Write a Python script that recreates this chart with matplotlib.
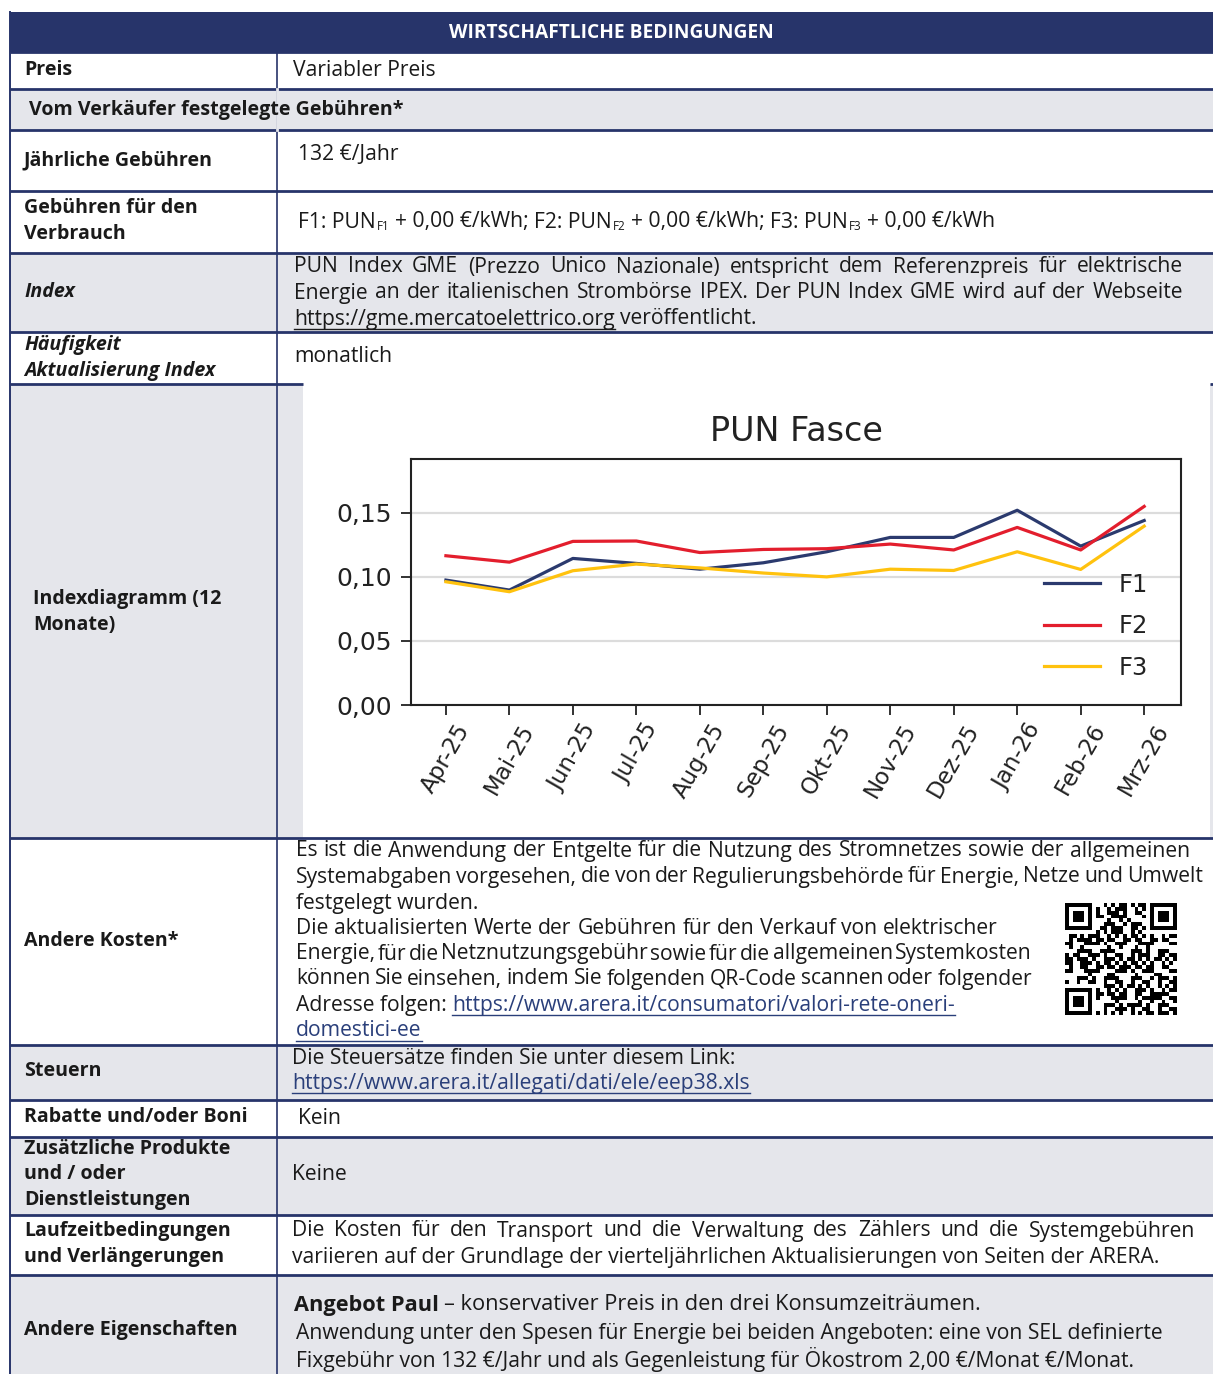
import matplotlib
matplotlib.use("Agg")
import matplotlib.pyplot as plt
from matplotlib.patches import Rectangle
import numpy as np

# ---------------- data ----------------
months = ["Apr-25", "Mai-25", "Jun-25", "Jul-25", "Aug-25", "Sep-25",
          "Okt-25", "Nov-25", "Dez-25", "Jan-26", "Feb-26", "Mrz-26"]
pun_f1 = [0.0975, 0.0897, 0.1144, 0.1105, 0.1060, 0.1110,
          0.1196, 0.1308, 0.1308, 0.1520, 0.1240, 0.1440]
pun_f2 = [0.1165, 0.1115, 0.1277, 0.1280, 0.1190, 0.1214,
          0.1220, 0.1256, 0.1210, 0.1386, 0.1210, 0.1550]
pun_f3 = [0.0962, 0.0884, 0.1048, 0.1100, 0.1070, 0.1030,
          0.1000, 0.1060, 0.1050, 0.1196, 0.1058, 0.1396]
series_names = ["F1", "F2", "F3"]
y_ticks = [0.00, 0.05, 0.10, 0.15]
y_tick_labels = ["0,00", "0,05", "0,10", "0,15"]
chart_title = "PUN Fasce"

header_title = "WIRTSCHAFTLICHE BEDINGUNGEN"

# ---------------- style ----------------
W, H, DPI = 1213, 1374, 100
NAVY = "#27346a"
GRAY = "#e5e6eb"
LINK = "#2a3f7a"
TXT = "#1a1a1a"
series_colors = ["#2b3a6e", "#e31e2d", "#ffc20e"]
FONT = ["Open Sans", "DejaVu Sans"]
BODY_FS = 15.2
LABEL_FS = 14.1

plt.rcParams["font.family"] = FONT

fig = plt.figure(figsize=(W / DPI, H / DPI), dpi=DPI)
fig.patch.set_facecolor("white")
bg = fig.add_axes([0, 0, 1, 1])
bg.set_xlim(0, W)
bg.set_ylim(H, 0)
bg.axis("off")
renderer = fig.canvas.get_renderer()

X0, XC, X1 = 10, 277, W

# row bands: (top, bottom, background)
rows = [
    (52, 89, "white"), (89, 130, GRAY), (130, 191, "white"), (191, 253, "white"),
    (253, 332, GRAY), (332, 384, "white"), (384, 838, GRAY), (838, 1045, "white"),
    (1045, 1100, GRAY), (1100, 1137, "white"), (1137, 1215, GRAY),
    (1215, 1275, "white"), (1275, 1374, GRAY),
]
for top, bot, col in rows:
    bg.add_patch(Rectangle((X0, top), X1 - X0, bot - top, facecolor=col,
                           edgecolor="none", zorder=0))
# header
bg.add_patch(Rectangle((X0, 12), X1 - X0, 40, facecolor=NAVY, edgecolor="none", zorder=1))
bg.text((X0 + X1) / 2, 32.5, header_title, color="white", fontsize=13.8,
        fontweight="bold", ha="center", va="center", zorder=3)

# white chart image area
bg.add_patch(Rectangle((303, 384), 1210 - 303, 838 - 384, facecolor="white",
                       edgecolor="none", zorder=1))

# borders
hlines = [52, 89, 130, 191, 253, 332, 838, 1045, 1100, 1137, 1215, 1275]
for y in hlines:
    bg.plot([X0, X1], [y, y], color=NAVY, lw=2.0, zorder=2, solid_capstyle="butt")
bg.plot([X0, 303], [384, 384], color=NAVY, lw=2.0, zorder=2, solid_capstyle="butt")
bg.plot([1210, X1], [384, 384], color=NAVY, lw=2.0, zorder=2, solid_capstyle="butt")
bg.plot([X0, X0], [12, H], color=NAVY, lw=1.4, zorder=2)
bg.plot([XC, XC], [52, H], color=NAVY, lw=1.2, zorder=2)
bg.plot([XC, XC], [89, 130], color=GRAY, lw=2.0, zorder=2)


def width_of(s, **kw):
    t = bg.text(0, 0, s, **kw)
    w = t.get_window_extent(renderer).width
    t.remove()
    return w


def text(x, y, s, fs=BODY_FS, weight="normal", style="normal", color=TXT,
         underline=False, **kw):
    t = bg.text(x, y, s, fontsize=fs, fontweight=weight, fontstyle=style,
                color=color, ha="left", va="center", zorder=4, **kw)
    w = t.get_window_extent(renderer).width
    if underline:
        bg.plot([x, x + w], [y + fs * 0.64, y + fs * 0.64], color=color,
                lw=1.0, zorder=4)
    return x + w


def space_w(fs=BODY_FS, weight="normal"):
    return (width_of("x x", fontsize=fs, fontweight=weight)
            - width_of("xx", fontsize=fs, fontweight=weight))


def justify(x0, x1, y, line, fs=BODY_FS):
    words = line.split(" ")
    ws = [width_of(w, fontsize=fs) for w in words]
    gap = (x1 - x0 - sum(ws)) / (len(words) - 1)
    x = x0
    for w, wd in zip(words, ws):
        text(x, y, w, fs=fs)
        x += wd + gap


def label(x, y, s, style="normal"):
    text(x, y, s, fs=LABEL_FS, weight="bold", style=style)


# ---- left column labels ----
label(24, 70, "Preis")
label(29, 110, "Vom Verkäufer festgelegte Gebühren*")
label(24, 160, "Jährliche Gebühren")
label(24, 208, "Gebühren für den")
label(24, 234, "Verbrauch")
label(24, 292, "Index", style="italic")
label(24, 345, "Häufigkeit", style="italic")
label(24, 371, "Aktualisierung Index", style="italic")
label(33, 599, "Indexdiagramm (12")
label(33, 625, "Monate)")
label(24, 941, "Andere Kosten*")
label(24, 1071, "Steuern")
label(24, 1117, "Rabatte und/oder Boni")
label(24, 1149, "Zusätzliche Produkte")
label(24, 1174, "und / oder")
label(24, 1200, "Dienstleistungen")
label(24, 1231, "Laufzeitbedingungen")
label(24, 1257, "und Verlängerungen")
label(24, 1330, "Andere Eigenschaften")

# ---- right column ----
text(293, 70, "Variabler Preis")
text(298, 154, "132 €/Jahr")

x = 298
sp = space_w()
for i, fname in enumerate(series_names):
    x = text(x, 222, f"{fname}: PUN")
    x = text(x + 1, 226, fname, fs=BODY_FS * 0.55)
    tail = " + 0,00 €/kWh" + (";" if i < 2 else "")
    x = text(x + sp, 222, tail.strip())
    x += sp

justify(294, 1183, 267,
        "PUN Index GME (Prezzo Unico Nazionale) entspricht dem Referenzpreis für elektrische")
justify(294, 1183, 293,
        "Energie an der italienischen Strombörse IPEX. Der PUN Index GME wird auf der Webseite")
x = text(294, 319, "https://gme.mercatoelettrico.org", underline=True)
text(x + sp, 319, "veröffentlicht.")

text(294, 357, "monatlich")

ak_lines = [
    "Es ist die Anwendung der Entgelte für die Nutzung des Stromnetzes sowie der allgemeinen",
    "Systemabgaben vorgesehen, die von der Regulierungsbehörde für Energie, Netze und Umwelt",
    "festgelegt wurden.",
    "Die aktualisierten Werte der Gebühren für den Verkauf von elektrischer",
    "Energie, für die Netznutzungsgebühr sowie für die allgemeinen Systemkosten",
    "können Sie einsehen, indem Sie folgenden QR-Code scannen oder folgender",
]
ak_y = [851, 877, 903, 929, 954, 979]
ak_end = [1190, 1203, None, 998, 1032, 1032]
for s, y, e in zip(ak_lines, ak_y, ak_end):
    if e is None:
        text(296, y, s)
    else:
        justify(296, e, y, s)
x = text(296, 1005, "Adresse folgen:")
text(x + sp, 1005, "https://www.arera.it/consumatori/valori-rete-oneri-",
     color=LINK, underline=True)
text(296, 1031, "domestici-ee", color=LINK, underline=True)

# QR code (decorative)
n = 29
qr = np.zeros((n, n), dtype=int)
r, c = np.indices((n, n))
qr[((r * 5 + c * 3 + r * c) % 7 < 3) | ((r ^ c) % 5 == 0)] = 1
for (rr, cc) in [(0, 0), (0, n - 7), (n - 7, 0)]:
    qr[max(rr - 1, 0):rr + 8, max(cc - 1, 0):cc + 8] = 0
    qr[rr:rr + 7, cc:cc + 7] = 1
    qr[rr + 1:rr + 6, cc + 1:cc + 6] = 0
    qr[rr + 2:rr + 5, cc + 2:cc + 5] = 1
qax = fig.add_axes([1064 / W, 1 - 1015 / H, 113 / W, 112 / H])
qax.imshow(qr, cmap="gray_r", interpolation="nearest")
qax.axis("off")

text(292, 1058, "Die Steuersätze finden Sie unter diesem Link:")
text(292, 1083, "https://www.arera.it/allegati/dati/ele/eep38.xls",
     color=LINK, underline=True)
text(298, 1118, "Kein")
text(292, 1175, "Keine")
justify(292, 1195, 1231,
        "Die Kosten für den Transport und die Verwaltung des Zählers und die Systemgebühren")
text(292, 1257, "variieren auf der Grundlage der vierteljährlichen Aktualisierungen von Seiten der ARERA.")

x = text(294, 1305, "Angebot Paul", fs=15.7, weight="bold")
text(x + sp, 1305, "– konservativer Preis in den drei Konsumzeiträumen.", fs=15.7)
text(296, 1334, "Anwendung unter den Spesen für Energie bei beiden Angeboten: eine von SEL definierte")
text(296, 1360, "Fixgebühr von 132 €/Jahr und als Gegenleistung für Ökostrom 2,00 €/Monat €/Monat.")

# ---------------- chart ----------------
ax = fig.add_axes([411 / W, 1 - 705 / H, (1181 - 411) / W, (705 - 459) / H])
xs = np.arange(len(months))
for vals, name, colr in zip([pun_f1, pun_f2, pun_f3], series_names, series_colors):
    ax.plot(xs, vals, color=colr, lw=2.3, label=name, zorder=3)
ax.set_xlim(-0.55, len(months) - 1 + 0.58)
ax.set_ylim(0, 0.192)
ax.set_yticks(y_ticks)
ax.set_yticklabels(y_tick_labels, fontfamily="DejaVu Sans", fontsize=18)
ax.set_xticks(xs)
ax.set_xticklabels(months, rotation=60, fontfamily="DejaVu Sans", fontsize=16.5)
ax.grid(axis="y", color="#dcdcdc", lw=1.6, zorder=0)
ax.set_axisbelow(True)
ax.tick_params(axis="both", length=7, width=1.3, color="#222222", labelcolor="#222222")
ax.tick_params(axis="y", pad=7)
for s in ax.spines.values():
    s.set_linewidth(1.5)
    s.set_color("#222222")
ax.set_title(chart_title, fontfamily="DejaVu Sans", fontsize=24, pad=13, color="#222222")
leg = ax.legend(loc="center right", bbox_to_anchor=(0.985, 0.32), frameon=False,
                prop={"family": "DejaVu Sans", "size": 17.5}, handlelength=2.3,
                handletextpad=0.75, labelspacing=0.72)
for t in leg.get_texts():
    t.set_color("#222222")

fig.savefig("out.png", dpi=DPI, facecolor="white")
